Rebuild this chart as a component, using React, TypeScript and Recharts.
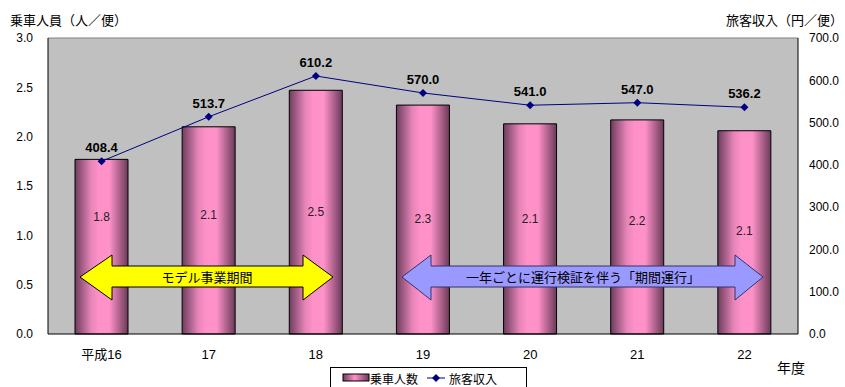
import { ComposedChart, Bar, Line, XAxis, YAxis, CartesianGrid, LabelList, ReferenceLine } from "recharts";

const years = ["平成16", "17", "18", "19", "20", "21", "22"];
const riders = [1.77, 2.1, 2.47, 2.32, 2.13, 2.17, 2.06];
const riderLabels = ["1.8", "2.1", "2.5", "2.3", "2.1", "2.2", "2.1"];
const revenue = [408.4, 513.7, 610.2, 570.0, 541.0, 547.0, 536.2];
const leftTicks = [0, 0.5, 1, 1.5, 2, 2.5, 3];
const rightTicks = [0, 100, 200, 300, 400, 500, 600, 700];

// where the bar value labels sit inside each bar (in left-axis units)
const labelLevel = [1.19, 1.21, 1.24, 1.17, 1.17, 1.15, 1.04];

const data = years.map((y, i) => ({ year: y, riders: riders[i], label: riderLabels[i], revenue: revenue[i] }));

const FONT = "'Liberation Sans', 'Noto Sans CJK JP', sans-serif";
const JP = "'Noto Sans CJK JP', sans-serif";

function Diamond(props: any) {
  const { cx, cy } = props;
  if (cx == null || cy == null) return null;
  const r = 4;
  return <polygon points={`${cx},${cy - r} ${cx + r},${cy} ${cx},${cy + r} ${cx - r},${cy}`} fill="#000080" />;
}

function BarValue(props: any) {
  const { x, y, width, height, index } = props;
  const v = riders[index];
  const bottom = y + height;
  const ly = bottom - (labelLevel[index] / v) * height;
  return (
    <text x={x + width / 2} y={ly} textAnchor="middle" dominantBaseline="central" fontSize={12} fontFamily={FONT} fill="#222">
      {riderLabels[index]}
    </text>
  );
}

function arrowPoints(x1: number, x2: number, hb1: number, hb2: number, cy: number) {
  return [
    [x1, cy], [hb1, cy - 22], [hb1, cy - 11], [hb2, cy - 11], [hb2, cy - 22], [x2, cy],
    [hb2, cy + 23], [hb2, cy + 10], [hb1, cy + 10], [hb1, cy + 23],
  ].map((p) => p.join(",")).join(" ");
}

export default function App() {
  return (
    <div style={{ position: "absolute", left: 0, top: 0, width: 845, height: 387, overflow: "hidden", background: "#fff" }}>
      <ComposedChart width={845} height={387} data={data} margin={{ top: 38, right: 0, bottom: 23, left: 0 }}>
        <defs>
          <linearGradient id="barGrad" x1="0" y1="0" x2="1" y2="0">
            <stop offset="0%" stopColor="#6e3d5d" />
            <stop offset="30%" stopColor="#e684b8" />
            <stop offset="45%" stopColor="#ff91c9" />
            <stop offset="65%" stopColor="#ff91c9" />
            <stop offset="100%" stopColor="#6a3a58" />
          </linearGradient>
        </defs>
        <CartesianGrid fill="#c0c0c0" horizontal={false} vertical={false} yAxisId="left" />
        <XAxis dataKey="year" height={30} axisLine={{ stroke: "#000" }} tickLine={false} tickSize={0} tickMargin={16}
          tick={{ fill: "#000", fontSize: 13, fontFamily: FONT }} />
        <YAxis yAxisId="left" width={48} domain={[0, 3]} ticks={leftTicks} tickFormatter={(v) => v.toFixed(1)}
          axisLine={{ stroke: "#000" }} tickLine={false} tickSize={0} tickMargin={15}
          tick={{ fill: "#000", fontSize: 12, fontFamily: FONT }} />
        <YAxis yAxisId="right" orientation="right" width={47} domain={[0, 700]} ticks={rightTicks} tickFormatter={(v) => v.toFixed(1)}
          axisLine={{ stroke: "#000" }} tickLine={false} tickSize={0} tickMargin={11}
          tick={{ fill: "#000", fontSize: 12, fontFamily: FONT, textAnchor: "start" }} />
        <ReferenceLine yAxisId="left" y={3} stroke="#808080" />
        <Bar yAxisId="left" dataKey="riders" barSize={53} fill="url(#barGrad)" stroke="#000" strokeWidth={1} isAnimationActive={false}>
          <LabelList dataKey="label" content={<BarValue />} />
        </Bar>
        <Line yAxisId="right" dataKey="revenue" stroke="#000080" strokeWidth={1} dot={<Diamond />} activeDot={false} isAnimationActive={false}>
          <LabelList dataKey="revenue" position="top" offset={9} formatter={(v: any) => Number(v).toFixed(1)}
            style={{ fontSize: 13, fontWeight: "bold", fontFamily: FONT, fill: "#000" }} />
        </Line>
      </ComposedChart>
      <svg width={845} height={387} style={{ position: "absolute", left: 0, top: 0, pointerEvents: "none" }}>
        <defs>
          <linearGradient id="legGrad" x1="0" y1="0" x2="1" y2="0">
            <stop offset="0%" stopColor="#6e3d5d" />
            <stop offset="45%" stopColor="#ff91c9" />
            <stop offset="100%" stopColor="#6a3a58" />
          </linearGradient>
        </defs>
        <text x={10} y={25} fontSize={13} fontFamily={JP} fill="#000">乗車人員（人／便）</text>
        <text x={843} y={25} fontSize={13} fontFamily={JP} fill="#000" textAnchor="end">旅客収入（円／便）</text>
        <text x={777} y={373} fontSize={14} fontFamily={JP} fill="#000">年度</text>
        <polygon points={arrowPoints(80, 333, 112, 303, 277)} fill="#ffff00" stroke="#000" strokeWidth={1} />
        <text x={207} y={282} fontSize={13} fontFamily={JP} fill="#000" textAnchor="middle">モデル事業期間</text>
        <polygon points={arrowPoints(402, 763, 431, 735, 277)} fill="#9999ff" stroke="#333366" strokeWidth={1} />
        <text x={583} y={282} fontSize={13} fontFamily={JP} fill="#000" textAnchor="middle">一年ごとに運行検証を伴う「期間運行」</text>
        <rect x={330.5} y={367.5} width={196} height={30} fill="#fff" stroke="#000" strokeWidth={1} />
        <rect x={343} y={374} width={26} height={7} fill="url(#legGrad)" stroke="#000" strokeWidth={1} />
        <text x={370} y={384} fontSize={12} fontFamily={JP} fill="#000">乗車人数</text>
        <line x1={427} y1={378} x2={445} y2={378} stroke="#000080" strokeWidth={1} />
        <polygon points="436,374 440,378 436,382 432,378" fill="#000080" />
        <text x={449} y={384} fontSize={12} fontFamily={JP} fill="#000">旅客収入</text>
      </svg>
    </div>
  );
}
